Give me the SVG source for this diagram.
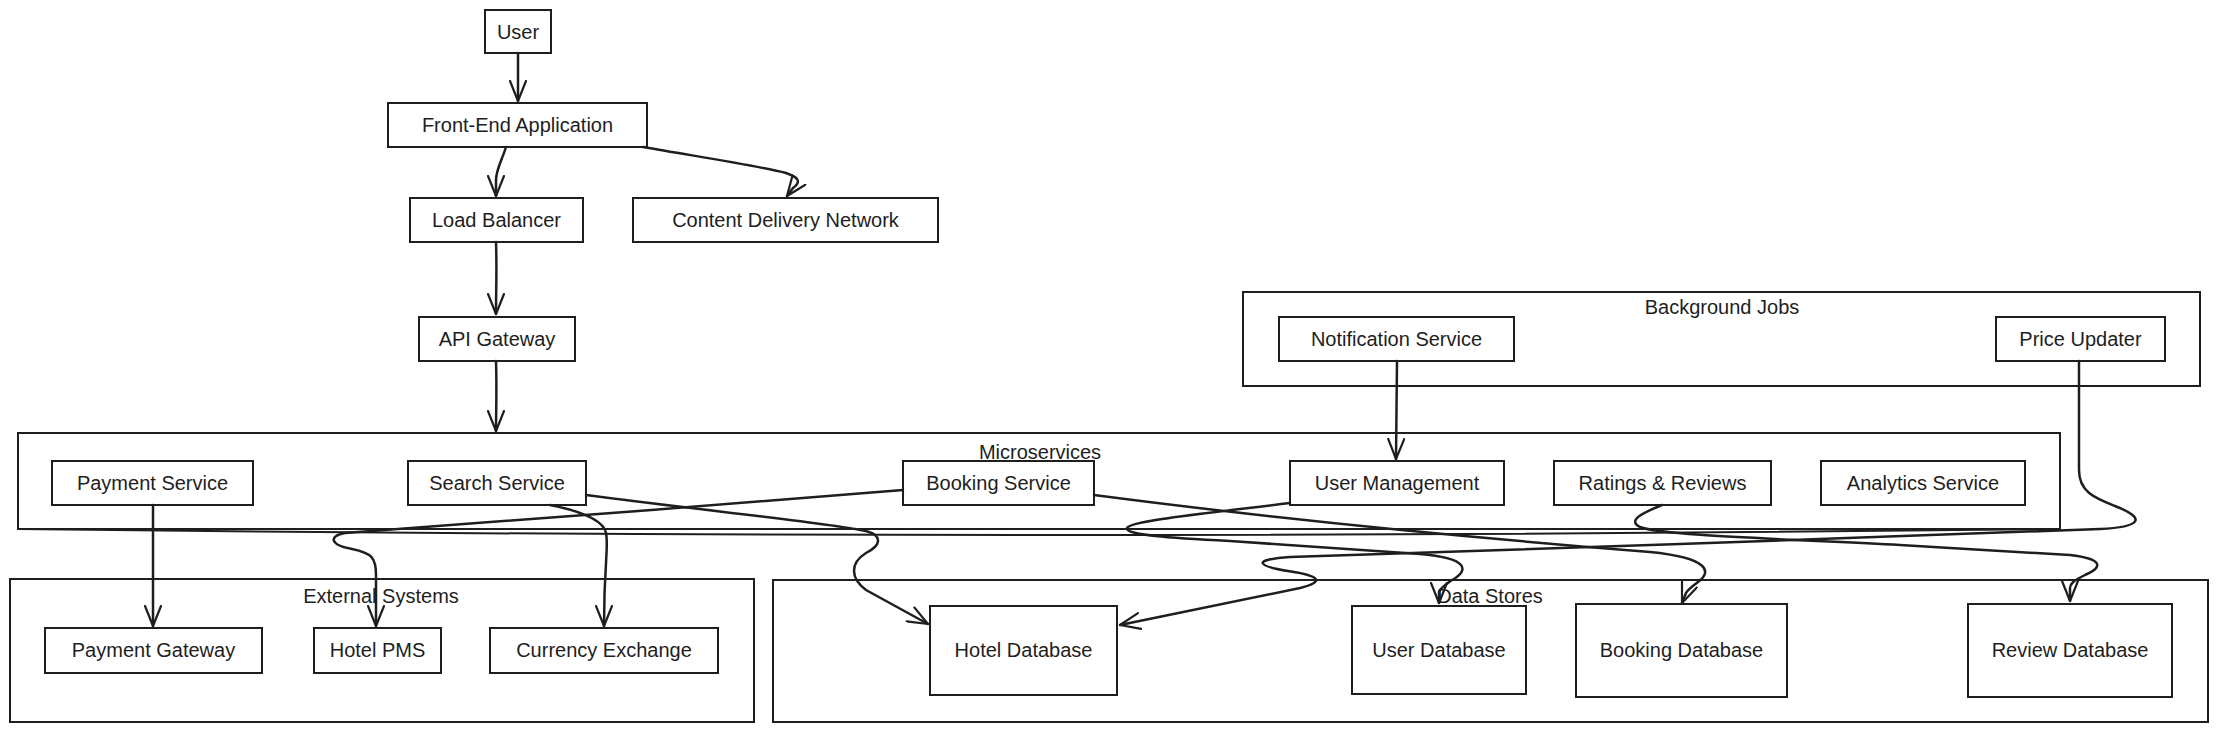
<svg xmlns="http://www.w3.org/2000/svg" width="2216" height="731" viewBox="0 0 2216 731">
<style>
  .box { fill: #ffffff; stroke: #1e1e1e; stroke-width: 2; }
  .cont { fill: none; stroke: #1e1e1e; stroke-width: 2; }
  .lbl { font-family: "Liberation Sans", Arial, sans-serif; font-size: 20px; fill: #1e1e1e; text-anchor: middle; }
  .edge { fill: none; stroke: #1e1e1e; stroke-width: 2.5; stroke-linecap: round; stroke-linejoin: round; }
</style>
<defs>
  <marker id="arr" viewBox="0 0 22 18" refX="21" refY="9" markerWidth="22" markerHeight="18" markerUnits="userSpaceOnUse" orient="auto">
    <path d="M1,1 L21,9 L1,17" fill="none" stroke="#1e1e1e" stroke-width="2.2" stroke-linecap="round" stroke-linejoin="round"/>
  </marker>
</defs>
<rect width="2216" height="731" fill="#ffffff"/>

<!-- containers -->
<g id="microservices">
  <rect class="cont" x="18" y="433" width="2042" height="96"/>
  <path class="cont" d="M18,529 Q1040,541 2060,529"/>
  <text class="lbl" x="1040" y="459">Microservices</text>
</g>
<g id="background-jobs">
  <rect class="cont" x="1243" y="292" width="957" height="94"/>
  <text class="lbl" x="1722" y="314">Background Jobs</text>
</g>
<g id="external-systems">
  <rect class="cont" x="10" y="579" width="744" height="143"/>
  <text class="lbl" x="381" y="603">External Systems</text>
</g>
<g id="data-stores">
  <rect class="cont" x="773" y="580" width="1435" height="142"/>
  <text class="lbl" x="1490" y="603">Data Stores</text>
</g>

<!-- nodes -->
<g id="user"><rect class="box" x="485" y="10" width="66" height="43"/><text class="lbl" x="518" y="39">User</text></g>
<g id="front-end"><rect class="box" x="388" y="103" width="259" height="44"/><text class="lbl" x="517.5" y="132">Front-End Application</text></g>
<g id="load-balancer"><rect class="box" x="410" y="198" width="173" height="44"/><text class="lbl" x="496.5" y="227">Load Balancer</text></g>
<g id="cdn"><rect class="box" x="633" y="198" width="305" height="44"/><text class="lbl" x="785.5" y="227">Content Delivery Network</text></g>
<g id="api-gateway"><rect class="box" x="419" y="317" width="156" height="44"/><text class="lbl" x="497" y="346">API Gateway</text></g>

<g id="payment-service"><rect class="box" x="52" y="461" width="201" height="44"/><text class="lbl" x="152.5" y="490">Payment Service</text></g>
<g id="search-service"><rect class="box" x="408" y="461" width="178" height="44"/><text class="lbl" x="497" y="490">Search Service</text></g>
<g id="booking-service"><rect class="box" x="903" y="461" width="191" height="44"/><text class="lbl" x="998.5" y="490">Booking Service</text></g>
<g id="user-management"><rect class="box" x="1290" y="461" width="214" height="44"/><text class="lbl" x="1397" y="490">User Management</text></g>
<g id="ratings-reviews"><rect class="box" x="1554" y="461" width="217" height="44"/><text class="lbl" x="1662.5" y="490">Ratings &amp; Reviews</text></g>
<g id="analytics-service"><rect class="box" x="1821" y="461" width="204" height="44"/><text class="lbl" x="1923" y="490">Analytics Service</text></g>

<g id="notification-service"><rect class="box" x="1279" y="317" width="235" height="44"/><text class="lbl" x="1396.5" y="346">Notification Service</text></g>
<g id="price-updater"><rect class="box" x="1996" y="317" width="169" height="44"/><text class="lbl" x="2080.5" y="346">Price Updater</text></g>

<g id="payment-gateway"><rect class="box" x="45" y="628" width="217" height="45"/><text class="lbl" x="153.5" y="657">Payment Gateway</text></g>
<g id="hotel-pms"><rect class="box" x="314" y="628" width="127" height="45"/><text class="lbl" x="377.5" y="657">Hotel PMS</text></g>
<g id="currency-exchange"><rect class="box" x="490" y="628" width="228" height="45"/><text class="lbl" x="604" y="657">Currency Exchange</text></g>

<g id="hotel-database"><rect class="box" x="930" y="606" width="187" height="89"/><text class="lbl" x="1023.5" y="657">Hotel Database</text></g>
<g id="user-database"><rect class="box" x="1352" y="606" width="174" height="88"/><text class="lbl" x="1439" y="657">User Database</text></g>
<g id="booking-database"><rect class="box" x="1576" y="604" width="211" height="93"/><text class="lbl" x="1681.5" y="657">Booking Database</text></g>
<g id="review-database"><rect class="box" x="1968" y="604" width="204" height="93"/><text class="lbl" x="2070" y="657">Review Database</text></g>

<!-- connectors -->
<g id="connectors">
  <path class="edge" marker-end="url(#arr)" d="M518,53 L518,101"/>
  <path class="edge" marker-end="url(#arr)" d="M506,147 C502,160 496,170 496,180 L496,196"/>
  <path class="edge" marker-end="url(#arr)" d="M643,147 C700,157 760,166 786,173 C801,178 800,183 793,188 L787,196"/>
  <path class="edge" marker-end="url(#arr)" d="M496,242 C497,270 496,290 496,314"/>
  <path class="edge" marker-end="url(#arr)" d="M496,361 C497,390 496,410 496,431"/>
  <path class="edge" marker-end="url(#arr)" d="M1397,361 L1396,459"/>
  <path class="edge" marker-end="url(#arr)" d="M153,505 L153,626"/>
  <path class="edge" marker-end="url(#arr)" d="M550,505 C575,510 603,518 606,533 C609,548 604,560 604,626"/>
  <path class="edge" marker-end="url(#arr)" d="M903,490 C750,503 450,525 345,533 C328,536 330,545 352,549 C372,553 376,558 376,575 L376,626"/>
  <path class="edge" marker-end="url(#arr)" d="M586,495 C700,510 830,523 866,531 C884,536 880,546 866,553 C850,563 850,578 866,590 L928,624"/>
  <path class="edge" marker-end="url(#arr)" d="M1094,495 C1300,522 1500,540 1650,552 C1710,558 1712,572 1698,582 C1690,588 1687,591 1686,593 L1682,603"/>
  <path class="edge" marker-end="url(#arr)" d="M1290,503 C1200,514 1130,521 1127,528 C1125,535 1170,538 1230,541 L1420,554 C1468,558 1470,570 1452,580 C1442,587 1439,590 1439,592 L1439,603"/>
  <path class="edge" marker-end="url(#arr)" d="M1662,505 C1645,512 1626,520 1640,527 C1660,535 1760,538 1900,545 L2070,555 C2105,559 2102,568 2085,575 C2073,581 2070,584 2070,588 L2070,601"/>
  <path class="edge" marker-end="url(#arr)" d="M2079,361 L2079,470 C2079,492 2095,498 2115,506 C2148,519 2140,527 2100,529 C1900,537 1500,550 1290,557 C1250,560 1258,566 1288,571 C1322,576 1324,582 1300,588 L1120,625"/>
</g>
</svg>
